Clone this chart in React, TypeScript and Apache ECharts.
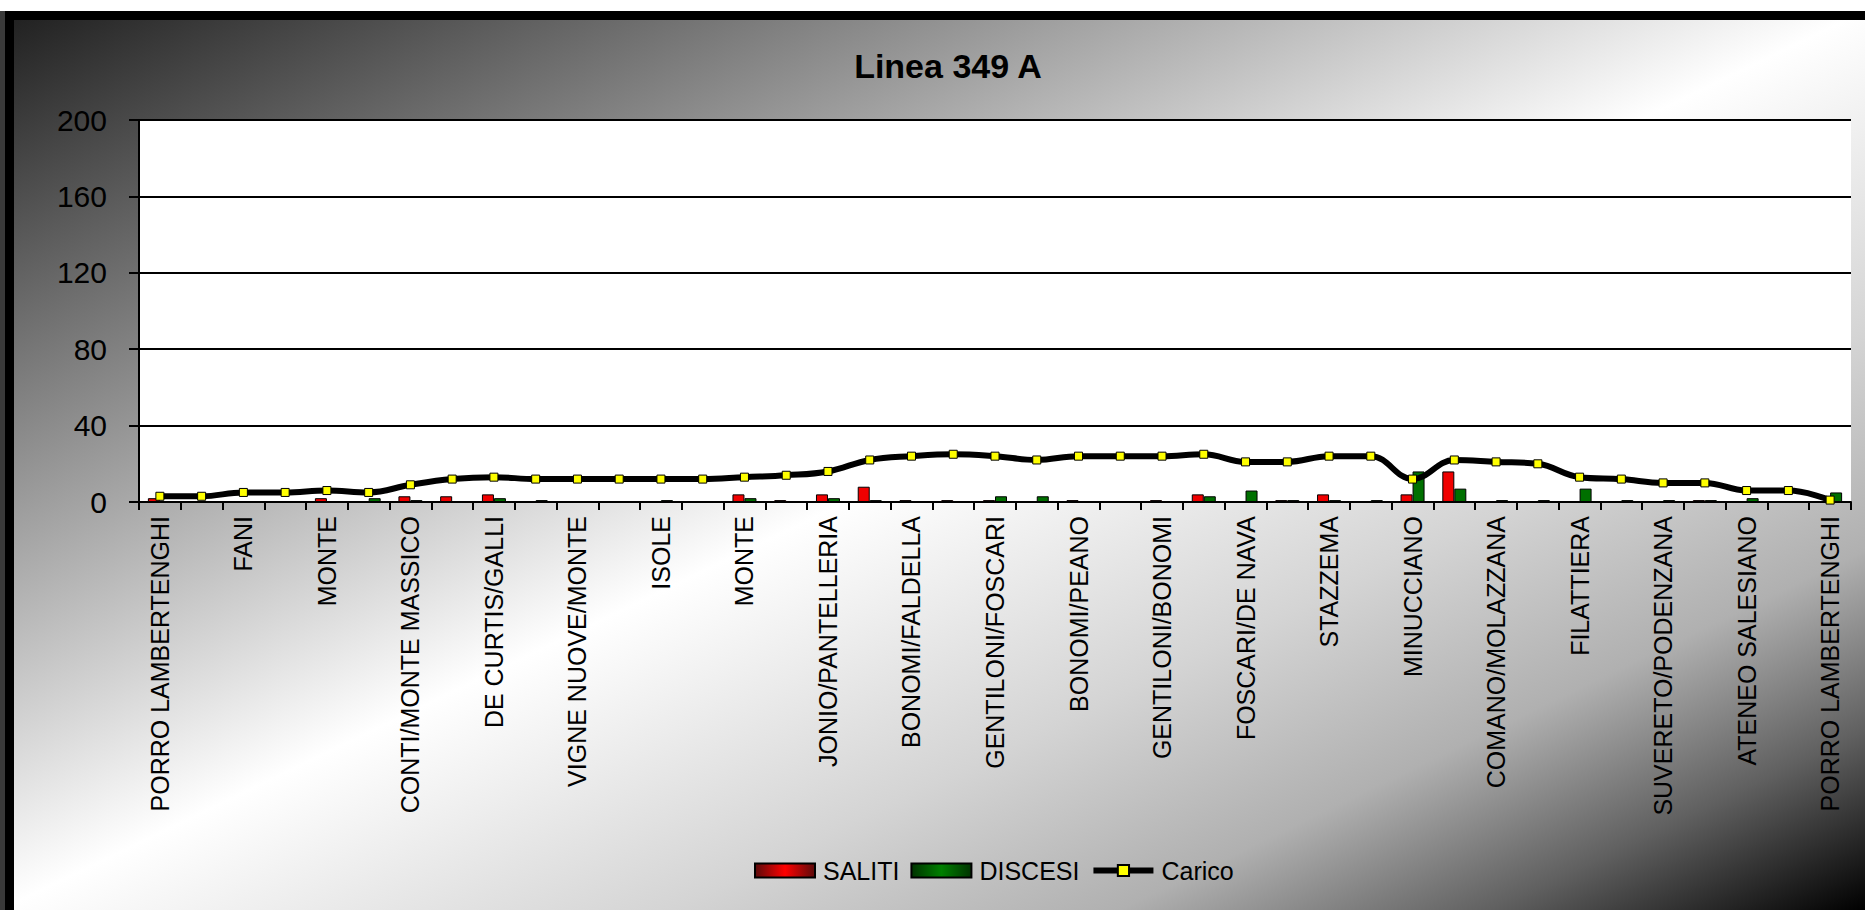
import React, { useEffect, useRef } from "react";
import * as echarts from "echarts";

const chartTitle = "Linea 349 A";

// 41 stops; only every other stop name is readable on the reference axis
const categories: string[] = [
  "PORRO LAMBERTENGHI", "", "FANI", "", "MONTE", "", "CONTI/MONTE MASSICO", "",
  "DE CURTIS/GALLI", "", "VIGNE NUOVE/MONTE", "", "ISOLE", "", "MONTE", "",
  "JONIO/PANTELLERIA", "", "BONOMI/FALDELLA", "", "GENTILONI/FOSCARI", "",
  "BONOMI/PEANO", "", "GENTILONI/BONOMI", "", "FOSCARI/DE NAVA", "", "STAZZEMA", "",
  "MINUCCIANO", "", "COMANO/MOLAZZANA", "", "FILATTIERA", "", "SUVERETO/PODENZANA", "",
  "ATENEO SALESIANO", "", "PORRO LAMBERTENGHI",
];

const saliti: number[] = [
  2, 0, 0, 0, 2, 0, 3, 3, 4, 0,
  0, 0, 0, 0, 4, 1, 4, 8, 1, 1,
  1, 0, 1, 0, 1, 4, 0, 1, 4, 0,
  4, 16, 0, 0, 0, 0, 0, 1, 0, 0,
  0,
];

const discesi: number[] = [
  0, 0, 0, 0, 0, 2, 1, 0, 2, 1,
  0, 0, 1, 0, 2, 0, 2, 1, 0, 0,
  3, 3, 0, 0, 0, 3, 6, 1, 1, 1,
  16, 7, 1, 1, 7, 1, 1, 1, 2, 0,
  5,
];

const carico: number[] = [
  3, 3, 5, 5, 6, 5, 9, 12, 13, 12,
  12, 12, 12, 12, 13, 14, 16, 22, 24, 25,
  24, 22, 24, 24, 24, 25, 21, 21, 24, 24,
  12, 22, 21, 20, 13, 12, 10, 10, 6, 6,
  1,
];

const yMin = 0;
const yMax = 200;
const yStep = 40;

const FONT = '"Liberation Sans", Arial, sans-serif';

export default function App() {
  const ref = useRef<HTMLDivElement>(null);

  useEffect(() => {
    if (!ref.current) return;
    const chart = echarts.init(ref.current, null, { renderer: "svg" });
    const redGrad = new echarts.graphic.LinearGradient(0, 0, 1, 0, [
      { offset: 0, color: "#5a0a0a" },
      { offset: 0.5, color: "#ff0000" },
      { offset: 1, color: "#5a0a0a" },
    ]);
    const greenGrad = new echarts.graphic.LinearGradient(0, 0, 1, 0, [
      { offset: 0, color: "#003300" },
      { offset: 0.5, color: "#008000" },
      { offset: 1, color: "#003300" },
    ]);
    chart.setOption({
      animation: false,
      textStyle: { fontFamily: FONT, color: "#000" },
      graphic: [
        {
          type: "text",
          x: 948,
          y: 66,
          style: {
            text: chartTitle,
            font: `bold 34px ${FONT}`,
            fill: "#000",
            textAlign: "center",
            textVerticalAlign: "middle",
          },
        },
      ],
      legend: {
        left: 749,
        top: 853,
        itemWidth: 60,
        itemHeight: 14,
        itemGap: 11,
        textStyle: { fontSize: 25, color: "#000", fontFamily: FONT, padding: [0, 0, 0, 3] },
        data: [
          { name: "SALITI", icon: "rect", itemStyle: { color: redGrad, borderColor: "#000", borderWidth: 2 } },
          { name: "DISCESI", icon: "rect", itemStyle: { color: greenGrad, borderColor: "#000", borderWidth: 2 } },
          { name: "Carico", lineStyle: { color: "#000", width: 6 } },
        ],
      },
      grid: {
        left: 139,
        right: 14,
        top: 120,
        bottom: 408,
        show: true,
        backgroundColor: "#ffffff",
        borderWidth: 0,
      },
      xAxis: {
        type: "category",
        data: categories,
        boundaryGap: true,
        axisLine: { lineStyle: { color: "#000", width: 2 } },
        axisTick: { show: true, interval: 0, length: 8, lineStyle: { color: "#000", width: 2 } },
        axisLabel: {
          interval: 1,
          rotate: 90,
          margin: 14,
          fontSize: 25,
          color: "#000",
          fontFamily: FONT,
        },
        splitLine: { show: false },
      },
      yAxis: {
        type: "value",
        min: yMin,
        max: yMax,
        interval: yStep,
        axisLine: { show: true, lineStyle: { color: "#000", width: 2 } },
        axisTick: { show: true, length: 10, lineStyle: { color: "#000", width: 2 } },
        axisLabel: { margin: 32, fontSize: 30, color: "#000", fontFamily: FONT },
        splitLine: { show: true, lineStyle: { color: "#000", width: 2 } },
      },
      series: [
        {
          name: "SALITI",
          type: "bar",
          data: saliti,
          barWidth: 12,
          barGap: "0%",
          itemStyle: { color: "#f00000", borderColor: "#000", borderWidth: 1 },
        },
        {
          name: "DISCESI",
          type: "bar",
          data: discesi,
          barWidth: 12,
          barGap: "0%",
          itemStyle: { color: "#007000", borderColor: "#000", borderWidth: 1 },
        },
        {
          name: "Carico",
          type: "line",
          data: carico,
          smooth: 0.4,
          symbol: "rect",
          symbolSize: 8,
          showAllSymbol: true,
          z: 5,
          lineStyle: { color: "#000", width: 6 },
          itemStyle: { color: "#ffff00", borderColor: "#000", borderWidth: 1 },
        },
      ],
    });
    return () => chart.dispose();
  }, []);

  return (
    <div
      style={{
        position: "absolute",
        left: 0,
        top: 0,
        width: 1865,
        height: 910,
        background: "#ffffff",
        overflow: "hidden",
      }}
    >
      <div
        style={{
          position: "absolute",
          left: 0,
          top: 11,
          width: 1865,
          height: 899,
          background:
            "linear-gradient(to bottom right, #1e1e1e 0%, #ffffff 50%, #d4d4d4 68%, #b0b0b0 80%, #606060 90%, #000000 100%)",
        }}
      />
      <div style={{ position: "absolute", left: 5, top: 11, width: 1860, height: 9, background: "#000" }} />
      <div style={{ position: "absolute", left: 0, top: 11, width: 5, height: 899, background: "#3a3a3a" }} />
      <div style={{ position: "absolute", left: 5, top: 11, width: 9, height: 899, background: "#000" }} />
      <div ref={ref} style={{ position: "absolute", left: 0, top: 0, width: 1865, height: 910 }} />
    </div>
  );
}
